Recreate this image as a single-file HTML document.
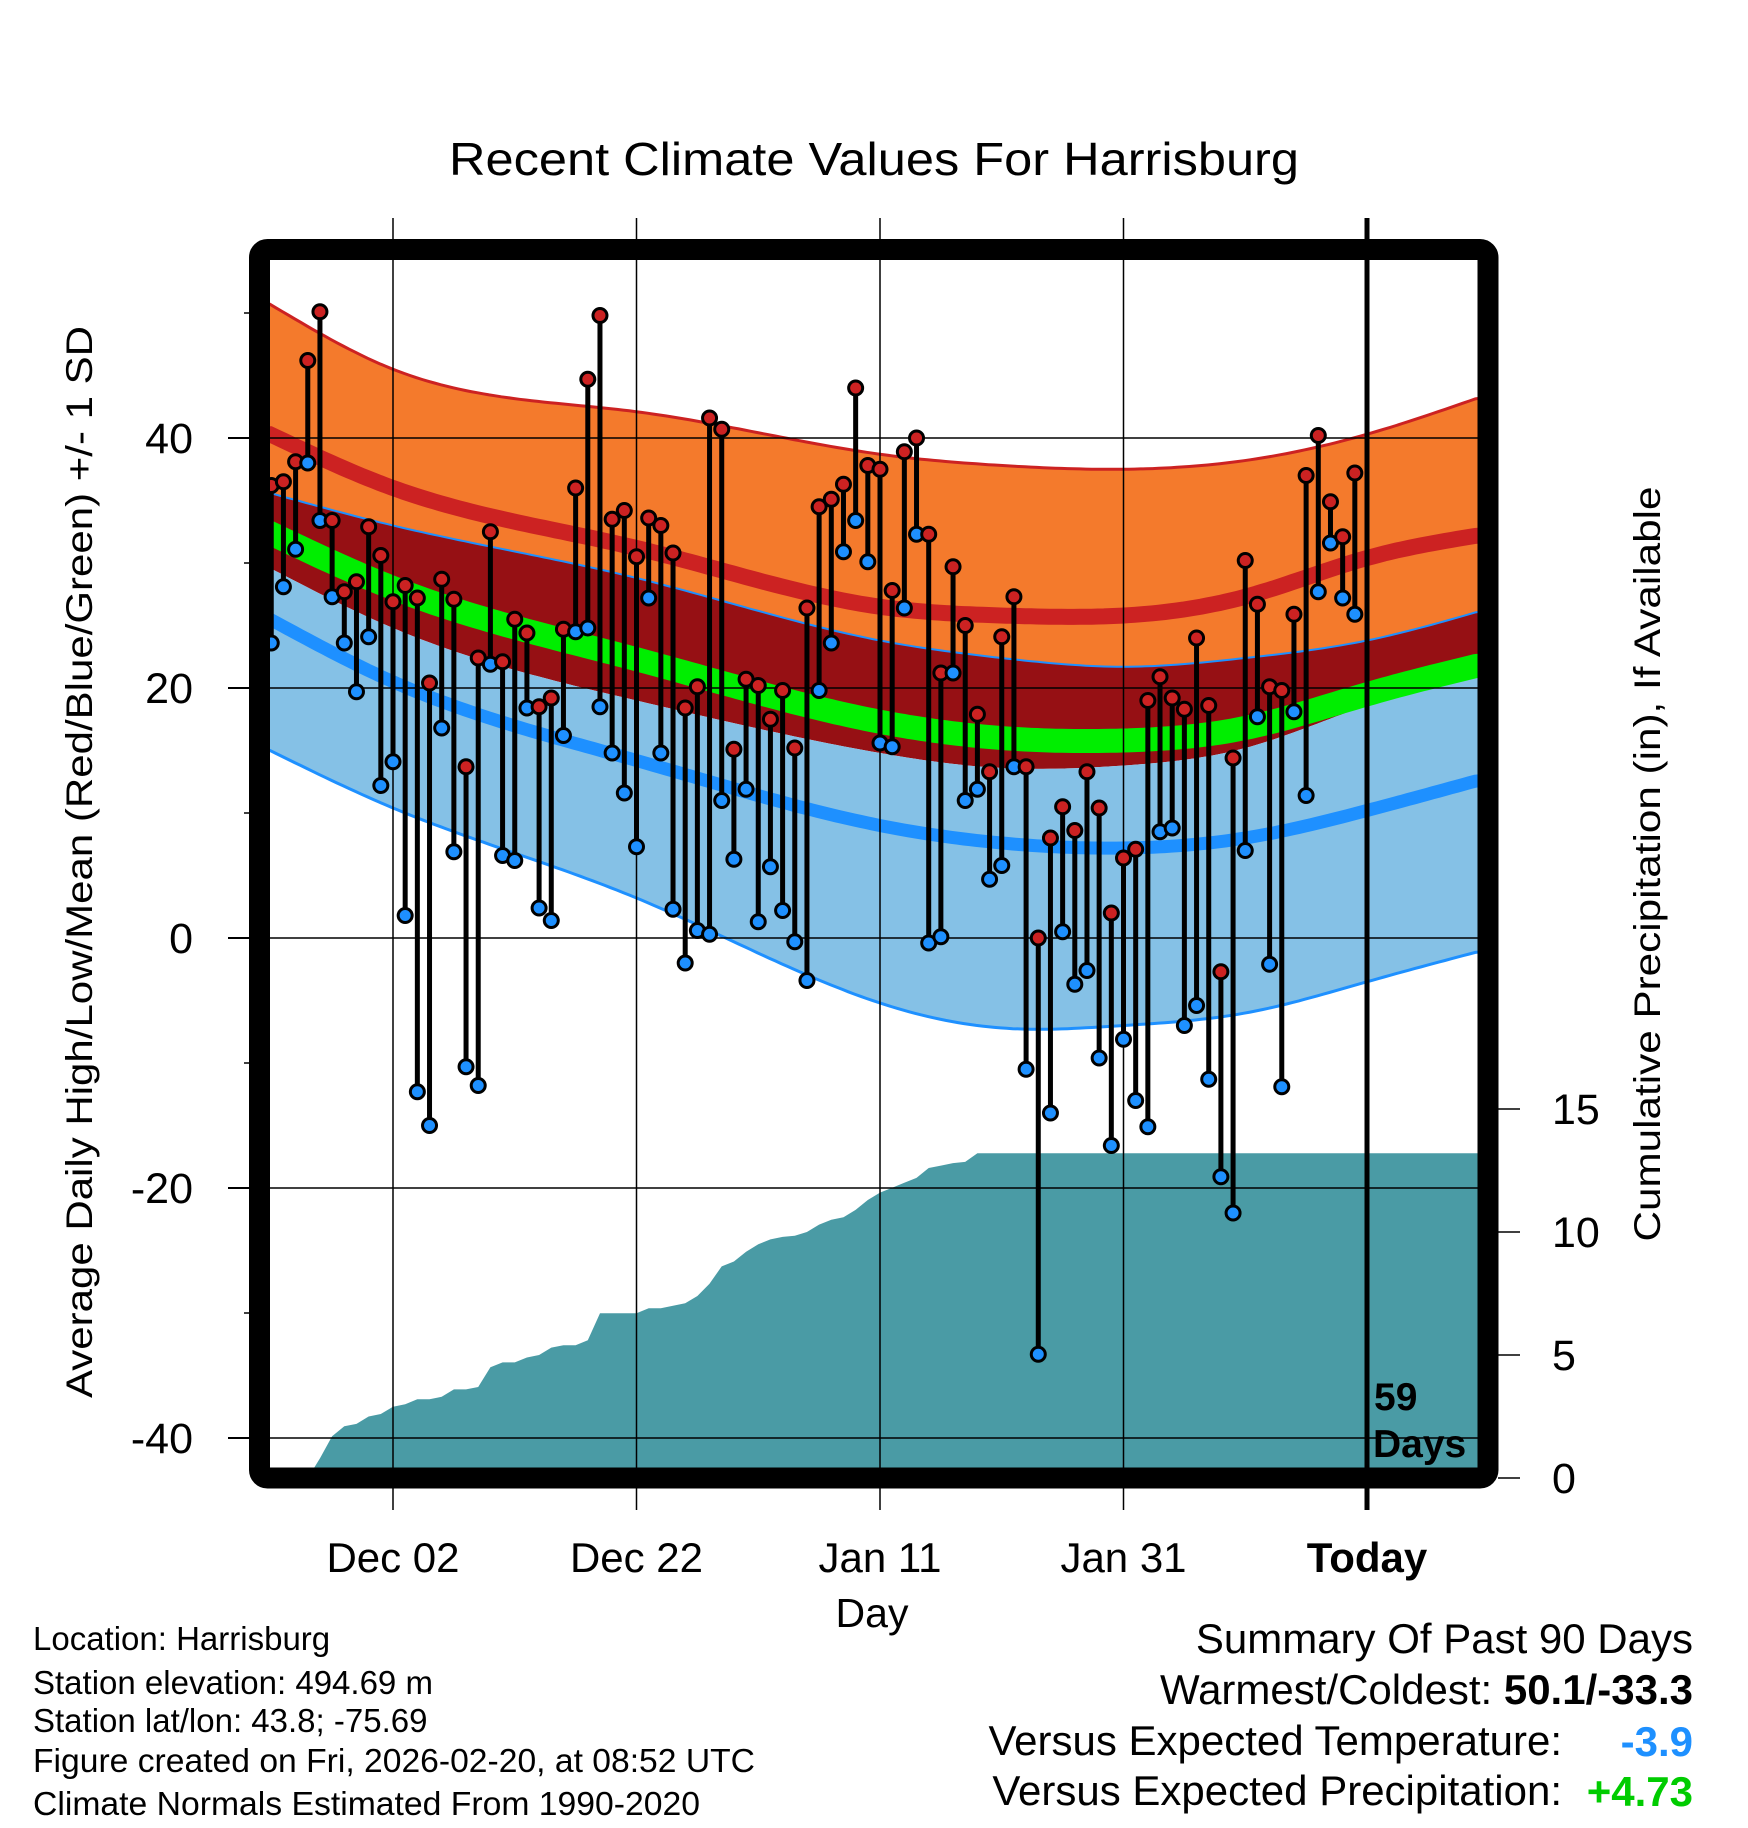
<!DOCTYPE html>
<html><head><meta charset="utf-8"><style>
html,body{margin:0;padding:0;background:#fff;}
svg{display:block;font-family:"Liberation Sans",Arial,sans-serif;}
</style></head><body>
<svg id="chart" width="1748" height="1828" viewBox="0 0 1748 1828" xmlns="http://www.w3.org/2000/svg">
<defs><clipPath id="plotclip"><rect x="270" y="260" width="1208" height="1208"/></clipPath></defs>
<rect x="0" y="0" width="1748" height="1828" fill="#fff"/>
<text x="874" y="175" font-size="46" text-anchor="middle" textLength="850" lengthAdjust="spacingAndGlyphs">Recent Climate Values For Harrisburg</text>
<g id="bands" clip-path="url(#plotclip)"></g>
<g id="precip" clip-path="url(#plotclip)"></g>
<g id="grid"></g>
<g id="marks" clip-path="url(#plotclip)"></g>
<g id="axes"></g>
<rect x="259.5" y="249.5" width="1228.5" height="1228.5" rx="8" fill="none" stroke="#000" stroke-width="21"/>
<text x="1374" y="1410" font-size="39" font-weight="bold">59</text>
<text x="1373" y="1457" font-size="39" font-weight="bold">Days</text>
<text transform="translate(92,862) rotate(-90)" font-size="37" text-anchor="middle" textLength="1072" lengthAdjust="spacingAndGlyphs">Average Daily High/Low/Mean (Red/Blue/Green) +/- 1 SD</text>
<text transform="translate(1660,864) rotate(-90)" font-size="37" text-anchor="middle" textLength="755" lengthAdjust="spacingAndGlyphs">Cumulative Precipitation (in), If Available</text>
<text x="872" y="1627" font-size="41" text-anchor="middle">Day</text>
<g font-size="33">
<text x="33" y="1650">Location: Harrisburg</text>
<text x="33" y="1694">Station elevation: 494.69 m</text>
<text x="33" y="1732">Station lat/lon: 43.8; -75.69</text>
<text x="33" y="1772" textLength="722" lengthAdjust="spacingAndGlyphs">Figure created on Fri, 2026-02-20, at 08:52 UTC</text>
<text x="33" y="1815" textLength="667" lengthAdjust="spacingAndGlyphs">Climate Normals Estimated From 1990-2020</text>
</g>
<g font-size="42">
<text x="1693" y="1653" text-anchor="end">Summary Of Past 90 Days</text>
<text x="1693" y="1704" text-anchor="end">Warmest/Coldest: <tspan font-weight="bold">50.1/-33.3</tspan></text>
<text x="1562" y="1755" text-anchor="end">Versus Expected Temperature:</text>
<text x="1693" y="1756" text-anchor="end" font-weight="bold" fill="#1E90FF">-3.9</text>
<text x="1562" y="1805" text-anchor="end">Versus Expected Precipitation:</text>
<text x="1693" y="1806" text-anchor="end" font-weight="bold" fill="#00CC00">+4.73</text>
</g>
</svg>
<script>
const normDays=[-90.1,-80,-60,-40,-30,-20,-10,0,9.1];
const topHigh=[50.7,45.5,42.1,38.7,37.8,37.5,38.2,40.3,43.2];
const meanHigh=[40.3,36.0,31.2,26.5,25.8,25.8,27.3,30.4,32.2];
const lowHighSD=[35.6,33,28.8,23.8,22.4,21.7,22.4,23.8,26.1];
const meanAvg=[32.4,28.0,22.3,17.3,16,15.8,16.8,19.5,21.8];
const highLowSD=[29.6,24.8,19,14.8,13.6,13.8,15.2,18.6,21];
const meanLow=[25.5,20.5,14.2,9,7.6,7.2,8,10.2,12.6];
const lowLow=[15,10.4,3.2,-5.2,-7.2,-7,-6,-3.5,-1.1];
const highs=[36.2,36.5,38.1,46.2,50.1,33.4,27.7,28.5,32.9,30.6,26.9,28.2,27.2,20.4,28.7,27.1,13.7,22.4,32.5,22.1,25.5,24.4,18.5,19.2,24.7,36,44.7,49.8,33.5,34.2,30.5,33.6,33,30.8,18.4,20.1,41.6,40.7,15.1,20.7,20.2,17.5,19.8,15.2,26.4,34.5,35.1,36.3,44,37.8,37.5,27.8,38.9,40,32.3,21.2,29.7,25,17.9,13.3,24.1,27.3,13.7,0,8,10.5,8.6,13.3,10.4,2,6.4,7.1,19,20.9,19.2,18.3,24,18.6,-2.7,14.4,30.2,26.7,20.1,19.8,25.9,37,40.2,34.9,32.1,37.2];
const lows=[23.6,28.1,31.1,38,33.4,27.3,23.6,19.7,24.1,12.2,14.1,1.8,-12.3,-15,16.8,6.9,-10.3,-11.8,21.9,6.6,6.2,18.4,2.4,1.4,16.2,24.5,24.8,18.5,14.8,11.6,7.3,27.2,14.8,2.3,-2,0.6,0.3,11,6.3,11.9,1.3,5.7,2.2,-0.3,-3.4,19.8,23.6,30.9,33.4,30.1,15.6,15.3,26.4,32.3,-0.4,0.1,21.2,11,11.9,4.7,5.8,13.7,-10.5,-33.3,-14,0.5,-3.7,-2.6,-9.6,-16.6,-8.1,-13,-15.1,8.5,8.8,-7,-5.4,-11.3,-19.1,-22,7,17.7,-2.1,-11.9,18.1,11.4,27.7,31.6,27.2,25.9];
const cumPrecip=[0,0,0,0,0.8,1.7,2.1,2.2,2.5,2.6,2.9,3.0,3.2,3.2,3.3,3.6,3.6,3.7,4.5,4.7,4.7,4.9,5.0,5.3,5.4,5.4,5.6,6.7,6.7,6.7,6.7,6.9,6.9,7.0,7.1,7.4,7.9,8.6,8.8,9.2,9.5,9.7,9.8,9.85,10.0,10.3,10.5,10.6,10.9,11.3,11.6,11.8,12.0,12.2,12.6,12.7,12.8,12.85,13.2,13.2,13.2,13.2,13.2,13.2,13.2,13.2,13.2,13.2,13.2,13.2,13.2,13.2,13.2,13.2,13.2,13.2,13.2,13.2,13.2,13.2,13.2,13.2,13.2,13.2,13.2,13.2,13.2,13.2,13.2,13.2];
const xTickDays=[-80,-60,-40,-20,0];
const xTickLabels=["Dec 02","Dec 22","Jan 11","Jan 31","Today"];
const yTicks=[40,20,0,-20,-40];
const yMinor=[50,30,10,-10,-30];
const pTicks=[0,5,10,15];

const NS="http://www.w3.org/2000/svg";
const xOf=d=>1367+d*12.175;
const yT=t=>938-t*12.5;
const yP=p=>1478-p*24.6;
function mk(tag,attrs,parent){const e=document.createElementNS(NS,tag);for(const k in attrs)e.setAttribute(k,attrs[k]);parent.appendChild(e);return e;}
function spline(xs,ys){
  const n=xs.length,h=[],al=[],l=[1],mu=[0],z=[0],c=new Array(n).fill(0),b=[],d=[];
  for(let i=0;i<n-1;i++)h.push(xs[i+1]-xs[i]);
  for(let i=1;i<n-1;i++)al[i]=3/h[i]*(ys[i+1]-ys[i])-3/h[i-1]*(ys[i]-ys[i-1]);
  for(let i=1;i<n-1;i++){l[i]=2*(xs[i+1]-xs[i-1])-h[i-1]*mu[i-1];mu[i]=h[i]/l[i];z[i]=(al[i]-h[i-1]*z[i-1])/l[i];}
  for(let j=n-2;j>=0;j--){c[j]=(j>0?z[j]-mu[j]*c[j+1]:0);b[j]=(ys[j+1]-ys[j])/h[j]-h[j]*(c[j+1]+2*c[j])/3;d[j]=(c[j+1]-c[j])/(3*h[j]);}
  return x=>{let j=0;while(j<n-2&&x>xs[j+1])j++;const t=x-xs[j];return ys[j]+b[j]*t+c[j]*t*t+d[j]*t*t*t;};
}
function curve(vals){
  const f=spline(normDays,vals);const pts=[];
  for(let d=normDays[0]-1;d<=normDays[normDays.length-1]+1;d+=0.5)pts.push([xOf(d),yT(f(Math.min(Math.max(d,normDays[0]),normDays[normDays.length-1])))]);
  return pts;
}
const ps=p=>p.map(q=>q[0].toFixed(1)+","+q[1].toFixed(1)).join(" ");
function band(a,b,fill,name){const pa=curve(a),pb=curve(b).reverse();
  const e=mk("polygon",{points:ps(pa.concat(pb)),fill:fill},bands);
  
  }
function line(a,col,w,name){const e=mk("polyline",{points:ps(curve(a)),fill:"none",stroke:col,"stroke-width":w},bands);
  
  }
const bands=document.getElementById("bands");
band(topHigh,lowHighSD,"#F47A2C","high-sd-band");
band(lowHighSD,highLowSD,"#961014","overlap-band");
band(highLowSD,lowLow,"#85C1E6","low-sd-band");
line(topHigh,"#CC2222",3,"high-plus-sd-line");
line(lowHighSD,"#1E90FF",2,"high-minus-sd-line");
line(lowLow,"#1E90FF",3,"low-minus-sd-line");
line(meanHigh,"#CC2222",16,"mean-high-line");
line(meanLow,"#1E90FF",13,"mean-low-line");
line(meanAvg,"#00EE00",24,"mean-line");

const prec=document.getElementById("precip");
let pp=[[270,1478],[270,yP(0)]];
cumPrecip.forEach((v,i)=>pp.push([xOf(-90+i),yP(v)]));
pp.push([1478,yP(cumPrecip[cumPrecip.length-1])]);pp.push([1478,1478]);
const pa=mk("polygon",{points:ps(pp),fill:"#4A9BA5"},prec);



const grid=document.getElementById("grid");
yTicks.forEach(t=>{const e=mk("line",{x1:270,x2:1478,y1:yT(t),y2:yT(t),stroke:"#000","stroke-width":1.5},grid);
  
  });
xTickDays.slice(0,4).forEach(d=>{const e=mk("line",{x1:xOf(d),x2:xOf(d),y1:218,y2:1510,stroke:"#000","stroke-width":1.5},grid);
  
  });

const marks=document.getElementById("marks");
highs.forEach((h,i)=>{const x=xOf(-90+i);
  const s=mk("line",{x1:x,x2:x,y1:yT(h),y2:yT(lows[i]),stroke:"#000","stroke-width":5},marks);
  
  });
highs.forEach((h,i)=>{const x=xOf(-90+i);
  const c1=mk("circle",{cx:x,cy:yT(h),r:7,fill:"#CC2222",stroke:"#000","stroke-width":3},marks);
  
  
  const c2=mk("circle",{cx:x,cy:yT(lows[i]),r:7,fill:"#1E90FF",stroke:"#000","stroke-width":3},marks);
  
  });

const axes=document.getElementById("axes");
const tl=mk("line",{x1:xOf(0),x2:xOf(0),y1:218,y2:1510,stroke:"#000","stroke-width":5},axes);


yTicks.forEach(t=>{const e=mk("line",{x1:228,x2:250,y1:yT(t),y2:yT(t),stroke:"#000","stroke-width":2},axes);
  
  
  const l=mk("text",{x:193,y:yT(t)+15,"font-size":43,"text-anchor":"end"},axes);l.textContent=t;
  
  });
yMinor.forEach(t=>{const e=mk("line",{x1:244,x2:250,y1:yT(t),y2:yT(t),stroke:"#000","stroke-width":1.5},axes);
  
  });
pTicks.forEach(p=>{const e=mk("line",{x1:1498,x2:1520,y1:yP(p),y2:yP(p),stroke:"#000","stroke-width":1.5},axes);
  
  
  const l=mk("text",{x:1552,y:yP(p)+15,"font-size":43},axes);l.textContent=p;
  
  });
xTickDays.forEach((d,i)=>{const l=mk("text",{x:xOf(d),y:1572,"font-size":42,"text-anchor":"middle"},axes);l.textContent=xTickLabels[i];
  if(i===4)l.setAttribute("font-weight","bold");
  
  });
</script>
</body></html>
